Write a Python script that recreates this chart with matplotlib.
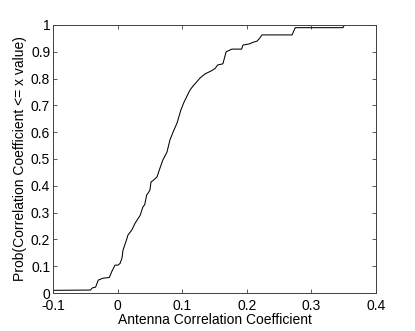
import numpy as np
import matplotlib.pyplot as plt

plt.rcParams['font.family'] = ['Liberation Sans', 'DejaVu Sans']

corr = [-0.1, -0.042, -0.039, -0.034, -0.030, -0.023, -0.0128, -0.009, -0.004,
        0.0006, 0.0037, 0.0068, 0.0084, 0.0146, 0.016, 0.022, 0.027, 0.035,
        0.039, 0.042, 0.045, 0.047, 0.050, 0.0517, 0.055, 0.061, 0.0656, 0.070,
        0.0765, 0.081, 0.0858, 0.092, 0.098, 0.103, 0.112, 0.116, 0.1276,
        0.135, 0.146, 0.151, 0.155, 0.163, 0.168, 0.177, 0.192, 0.194, 0.205,
        0.208, 0.216, 0.22, 0.2235, 0.27, 0.275, 0.349, 0.351]
prob = [0.01, 0.011, 0.019, 0.022, 0.048, 0.055, 0.058, 0.08, 0.104,
        0.104, 0.11, 0.13, 0.16, 0.204, 0.216, 0.235, 0.26, 0.29,
        0.32, 0.33, 0.366, 0.372, 0.384, 0.414, 0.42, 0.433, 0.466, 0.496,
        0.526, 0.571, 0.60, 0.634, 0.683, 0.713, 0.757, 0.77, 0.802,
        0.817, 0.83, 0.838, 0.851, 0.855, 0.90, 0.91, 0.91, 0.925, 0.93,
        0.934, 0.94, 0.951, 0.963, 0.963, 0.99, 0.99, 1.0]

xticks = [-0.1, 0, 0.1, 0.2, 0.3, 0.4]
xticklabels = ['-0.1', '0', '0.1', '0.2', '0.3', '0.4']
yticks = [0, 0.1, 0.2, 0.3, 0.4, 0.5, 0.6, 0.7, 0.8, 0.9, 1]
yticklabels = ['0', '0.1', '0.2', '0.3', '0.4', '0.5', '0.6', '0.7', '0.8', '0.9', '1']

fig = plt.figure(figsize=(4.15, 3.31), dpi=100)
ax = fig.add_axes([0.1277, 0.1148, 0.7783, 0.8097])
ax.plot(corr, prob, color='k', linewidth=0.75)

ax.set_xlim(-0.1, 0.4)
ax.set_ylim(0, 1)
ax.set_xticks(xticks)
ax.set_xticklabels(xticklabels)
ax.set_yticks(yticks)
ax.set_yticklabels(yticklabels)
ax.tick_params(direction='in', length=3, width=0.6, top=True, right=True,
               labelsize=10, color='#404040')
ax.tick_params(axis='x', pad=4)
ax.tick_params(axis='y', pad=2)
for s in ax.spines.values():
    s.set_linewidth(0.7)
    s.set_color('#404040')

ax.set_xlabel('Antenna Correlation Coefficient', fontsize=10, labelpad=0)
ax.set_ylabel('Prob(Correlation Coefficient <= x value)', fontsize=10, labelpad=3)

fig.savefig('out.png', dpi=100)
